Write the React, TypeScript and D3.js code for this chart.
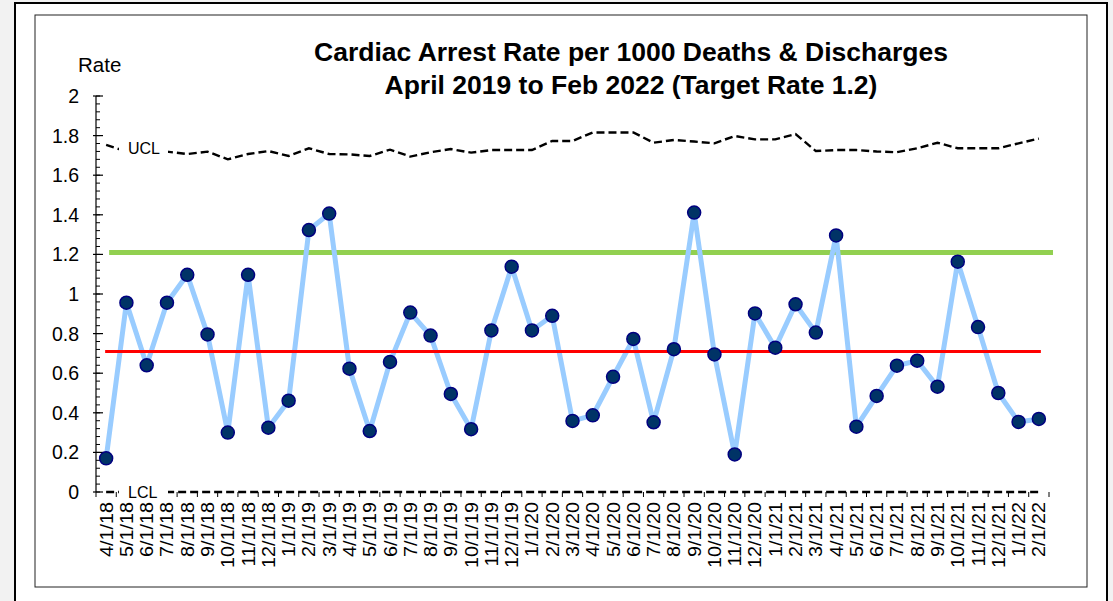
import React from 'react'
import * as d3 from 'd3'

const months = [
  '4/1/18', '5/1/18', '6/1/18', '7/1/18', '8/1/18', '9/1/18', '10/1/18', '11/1/18', '12/1/18',
  '1/1/19', '2/1/19', '3/1/19', '4/1/19', '5/1/19', '6/1/19', '7/1/19', '8/1/19', '9/1/19',
  '10/1/19', '11/1/19', '12/1/19', '1/1/20', '2/1/20', '3/1/20', '4/1/20', '5/1/20', '6/1/20',
  '7/1/20', '8/1/20', '9/1/20', '10/1/20', '11/1/20', '12/1/20', '1/1/21', '2/1/21', '3/1/21',
  '4/1/21', '5/1/21', '6/1/21', '7/1/21', '8/1/21', '9/1/21', '10/1/21', '11/1/21', '12/1/21',
  '1/1/22', '2/1/22',
];

const rate = [
  0.17, 0.956, 0.64, 0.956, 1.097, 0.796, 0.30, 1.097, 0.325,
  0.461, 1.323, 1.406, 0.623, 0.308, 0.657, 0.906, 0.79, 0.495,
  0.317, 0.816, 1.138, 0.816, 0.89, 0.359, 0.387, 0.582, 0.773,
  0.352, 0.721, 1.411, 0.695, 0.19, 0.902, 0.729, 0.948, 0.805,
  1.296, 0.33, 0.485, 0.638, 0.663, 0.532, 1.163, 0.833, 0.5,
  0.354, 0.369,
];

const ucl = [
  1.753, 1.72, 1.71, 1.719, 1.707, 1.719, 1.68, 1.707, 1.722,
  1.697, 1.736, 1.707, 1.705, 1.697, 1.729, 1.694, 1.716, 1.732,
  1.714, 1.727, 1.727, 1.727, 1.773, 1.773, 1.816, 1.816, 1.816,
  1.764, 1.778, 1.77, 1.761, 1.798, 1.781, 1.781, 1.808, 1.722,
  1.727, 1.727, 1.72, 1.716, 1.736, 1.764, 1.736, 1.736, 1.736,
  1.761, 1.785,
];

const meanRate = 0.709;
const targetRate = 1.21;
const lclValue = 0;
const yTicks = [0, 0.2, 0.4, 0.6, 0.8, 1, 1.2, 1.4, 1.6, 1.8, 2];

const W = 1113;
const H = 601;
const left = 96;
const right = 1049;
const top = 96;
const bottom = 492;

const x = d3.scaleBand<string>().domain(months).range([left, right]).padding(0);
const cx = (m: string) => (x(m) as number) + x.bandwidth() / 2;
const y = d3.scaleLinear().domain([0, 2]).range([bottom, top]);

const lineGen = d3.line<number>()
  .x((_, i) => cx(months[i]))
  .y((d) => y(d));

const font = 'Arial, "Liberation Sans", Helvetica, sans-serif';

const App = () => {
  const minor = d3.range(0, 2.0001, 0.04);
  const firstX = cx(months[0]);
  const lastX = cx(months[months.length - 1]);
  return (
    <svg width={W} height={H} style={{ position: 'absolute', left: 0, top: 0 }} fontFamily={font}>
      <rect x={0} y={0} width={W} height={H} fill="#f2f2f2" />
      <rect x={15} y={3} width={1092} height={H + 10} fill="#fff" stroke="#000" strokeWidth={2} />
      <rect x={35} y={15} width={1052} height={572} fill="#fff" stroke="#222" strokeWidth={1} />

      <text x={631} y={61} textAnchor="middle" fontSize={26.5} fontWeight="bold">
        Cardiac Arrest Rate per 1000 Deaths &amp; Discharges
      </text>
      <text x={631} y={94} textAnchor="middle" fontSize={26.5} fontWeight="bold">
        April 2019 to Feb 2022 (Target Rate 1.2)
      </text>
      <text x={78} y={72} fontSize={20.5}>Rate</text>

      {/* y axis */}
      <line x1={left} x2={left} y1={top} y2={bottom} stroke="#000" strokeWidth={1.2} />
      {minor.map((v, i) => (
        <line key={'m' + i} x1={left} x2={left + 4} y1={y(v)} y2={y(v)} stroke="#000" strokeWidth={1} />
      ))}
      {yTicks.map((v) => (
        <g key={'t' + v}>
          <line x1={left - 3} x2={left + 7} y1={y(v)} y2={y(v)} stroke="#000" strokeWidth={1.2} />
          <text x={left - 17} y={y(v)} dy="0.36em" textAnchor="end" fontSize={19.5}>
            {v}
          </text>
        </g>
      ))}

      {/* x ticks + labels */}
      {months.concat(['end']).map((m, i) => {
        const xx = left + i * x.bandwidth();
        return <line key={'x' + i} x1={xx} x2={xx} y1={bottom} y2={bottom + 5} stroke="#000" strokeWidth={1} />;
      })}
      {months.map((m) => (
        <text
          key={'l' + m}
          transform={`translate(${cx(m) + 6.5},${bottom + 10}) rotate(-90) scale(1.1,1)`}
          textAnchor="end"
          fontSize={18}
        >
          {m}
        </text>
      ))}

      {/* control lines */}
      <path d={lineGen(ucl) || ''} fill="none" stroke="#000" strokeWidth={2.4} strokeDasharray="8,4" />
      <line x1={firstX} x2={lastX} y1={y(lclValue)} y2={y(lclValue)} stroke="#000" strokeWidth={2.4} strokeDasharray="8,4" />
      <rect x={119} y={136} width={49} height={22} fill="#fff" />
      <text x={128} y={148} dy="0.36em" fontSize={16}>UCL</text>
      <rect x={119} y={482} width={49} height={17} fill="#fff" />
      <text x={128} y={492} dy="0.36em" fontSize={16}>LCL</text>

      <line x1={firstX + 3} x2={right + 4} y1={y(targetRate)} y2={y(targetRate)} stroke="#92D050" strokeWidth={5} />

      <path d={lineGen(rate) || ''} fill="none" stroke="#99CCFF" strokeWidth={5} strokeLinejoin="round" />
      <line x1={firstX - 1} x2={lastX + 2} y1={y(meanRate)} y2={y(meanRate)} stroke="#FF0000" strokeWidth={3} />
      {rate.map((v, i) => (
        <circle key={'c' + i} cx={cx(months[i])} cy={y(v)} r={6.5} fill="#003366" stroke="#000080" strokeWidth={1.5} />
      ))}
    </svg>
  );
};

export default App;
